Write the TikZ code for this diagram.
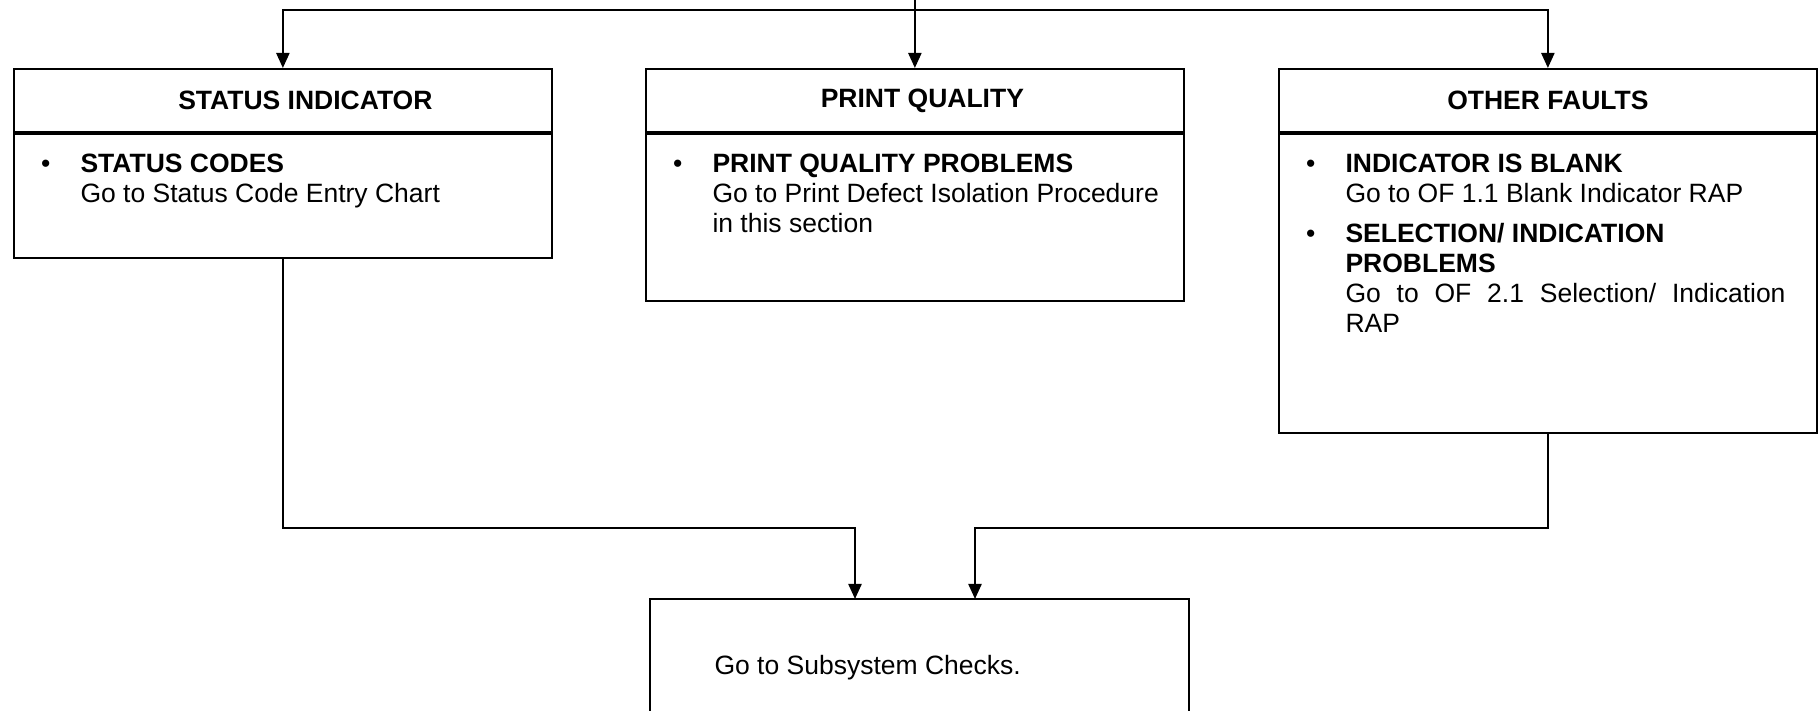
\documentclass[tikz,border=0pt]{standalone}
\usepackage{fontspec}
\setmainfont{Liberation Sans}
\usetikzlibrary{arrows.meta,positioning}
\newcommand{\faultbullet}{\leavevmode\llap{\textbullet\hspace{12pt}}}

\begin{document}
\begin{tikzpicture}[x=0.4pt,y=-0.4pt,
  font=\fontsize{10.6pt}{12pt}\selectfont,
  box/.style={draw,line width=0.9pt,inner sep=0pt,minimum width=215pt,anchor=north west},
  head/.style={box,minimum height=25.2pt,font=\fontsize{10.6pt}{12pt}\selectfont\bfseries},
  items/.style={inner sep=0pt,anchor=base west},
  link/.style={line width=0.9pt},
  arrow/.style={link,-{Triangle[width=5.2pt,length=6pt]}}]
  \useasboundingbox (0,0) rectangle (1820,711);
  % the three fault groups
  \node[head] (sihead) at (13,68) {\hspace*{18pt}STATUS INDICATOR};
  \node[head] (pqhead) at (645,68) {\hspace*{6pt}PRINT QUALITY};
  \node[head] (ofhead) at (1278,68) {OTHER FAULTS};
  \node[box,minimum height=49.4pt] (sibody) at (sihead.south west) {};
  \node[box,minimum height=66.6pt] (pqbody) at (pqhead.south west) {};
  \node[box,minimum height=119.4pt] (ofbody) at (ofhead.south west) {};
  \node[items] (sitext) at (80,173) {\parbox[t]{190pt}{%
    \faultbullet\textbf{STATUS CODES}\\
    Go to Status Code Entry Chart}};
  \node[items] (pqtext) at (712,173) {\parbox[t]{190pt}{%
    \faultbullet\textbf{PRINT QUALITY PROBLEMS}\\
    Go to Print Defect Isolation Procedure\\
    in this section}};
  \node[items] (oftext) at (1345,173) {\parbox[t]{176pt}{%
    \faultbullet\textbf{INDICATOR IS BLANK}\\
    Go to OF 1.1 Blank Indicator RAP\\[4pt]
    \faultbullet\textbf{SELECTION/ INDICATION}\\
    \textbf{PROBLEMS}\\
    \makebox[\linewidth][s]{Go to OF 2.1 Selection/ Indication}\\
    RAP}};
  % subsystem checks, bottom edge runs off the page
  \node[inner sep=0pt,minimum width=215.2pt,minimum height=44.8pt,anchor=north west] (ssbox) at (650,599) {};
  \draw[link] (ssbox.south west) -- (ssbox.north west) -- (ssbox.north east) -- (ssbox.south east);
  \node[items] (sstext) at (714,674) {Go to Subsystem Checks.};
  % feed from above
  \coordinate (feed) at (pqhead.north |- 0,0);
  \coordinate (split) at (pqhead.north |- 0,10);
  \draw[link] (feed) -- (split);
  \draw[arrow] (split) -| (sihead.north);
  \draw[arrow] (split) -- (pqhead.north);
  \draw[arrow] (split) -| (ofhead.north);
  % back down to the checks
  \coordinate (joinl) at (855,528);
  \coordinate (joinr) at (975,528);
  \draw[arrow] (sibody.south) |- (joinl) -- (joinl |- ssbox.north);
  \draw[arrow] (ofbody.south) |- (joinr) -- (joinr |- ssbox.north);
\end{tikzpicture}
\end{document}
